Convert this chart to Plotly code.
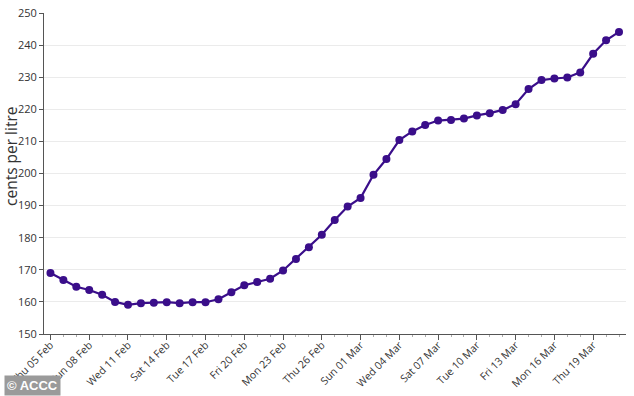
import plotly.graph_objects as go
import pandas as pd

dates = pd.date_range("2026-02-05", periods=45, freq="D")
prices = [169.0, 166.8, 164.7, 163.7, 162.2, 160.0, 159.1, 159.6, 159.7, 159.9,
          159.6, 159.9, 159.9, 160.8, 163.0, 165.2, 166.2, 167.2, 169.8, 173.4,
          177.0, 180.9, 185.5, 189.7, 192.4, 199.6, 204.5, 210.4, 213.1, 215.1,
          216.5, 216.7, 217.1, 218.1, 218.8, 219.8, 221.6, 226.3, 229.1, 229.6,
          229.9, 231.5, 237.3, 241.5, 244.1]

tick_dates = pd.date_range("2026-02-05", "2026-03-19", freq="3D")
tick_labels = [d.strftime("%a %d %b") for d in tick_dates]

font_family = "Open Sans, Lato, sans-serif"
line_color = "#3a0e8a"

fig = go.Figure()
fig.add_trace(go.Scatter(
    x=dates, y=prices, mode="lines+markers",
    line=dict(color=line_color, width=2.2),
    marker=dict(color=line_color, size=8),
    hoverinfo="skip", showlegend=False, cliponaxis=False,
))

fig.update_layout(
    width=634, height=396,
    margin=dict(l=44, r=8, t=13, b=62, autoexpand=False),
    paper_bgcolor="white", plot_bgcolor="white",
    font=dict(family=font_family, color="#333333", size=11),
    xaxis=dict(
        type="date", automargin=False,
        range=[pd.Timestamp("2026-02-04 12:00"), pd.Timestamp("2026-03-21 13:00")],
        tickvals=tick_dates, ticktext=tick_labels, tickangle=-45,
        ticks="outside", ticklen=5, tickcolor="#555555",
        ticklabelstandoff=-5,
        showline=True, linecolor="#555555", linewidth=1,
        showgrid=False, zeroline=False,
        minor=dict(dtick=86400000, ticks="outside", ticklen=2, tickcolor="#aaaaaa",
                   showgrid=False, tick0="2026-02-05"),
        tickfont=dict(size=10.5, color="#333333"),
    ),
    yaxis=dict(
        automargin=False,
        range=[150, 250], dtick=10,
        ticks="outside", ticklen=4, tickcolor="#555555",
        showline=True, linecolor="#555555", linewidth=1,
        showgrid=True, gridcolor="#ebebeb", gridwidth=1,
        zeroline=False,
        tickfont=dict(size=11, color="#333333"),
    ),
)

# y-axis title placed as a rotated annotation
fig.add_annotation(
    text="cents per litre", xref="paper", yref="paper",
    x=-33/582, y=(334-156)/321, xanchor="center", yanchor="middle",
    textangle=-90, showarrow=False,
    font=dict(size=15.5, color="#333333", family=font_family),
)

fig.add_annotation(
    text="<b>© ACCC</b>", xref="paper", yref="paper",
    x=-44/582, y=-62/321, xanchor="left", yanchor="bottom",
    showarrow=False, font=dict(color="white", size=13, family="Liberation Sans, Arial, sans-serif"),
    bgcolor="#9a9a9a", borderpad=2, xshift=4,
)

fig.write_html("out.html", config={"displayModeBar": False},
               post_script="document.body.style.margin='0';document.body.style.padding='0';")
